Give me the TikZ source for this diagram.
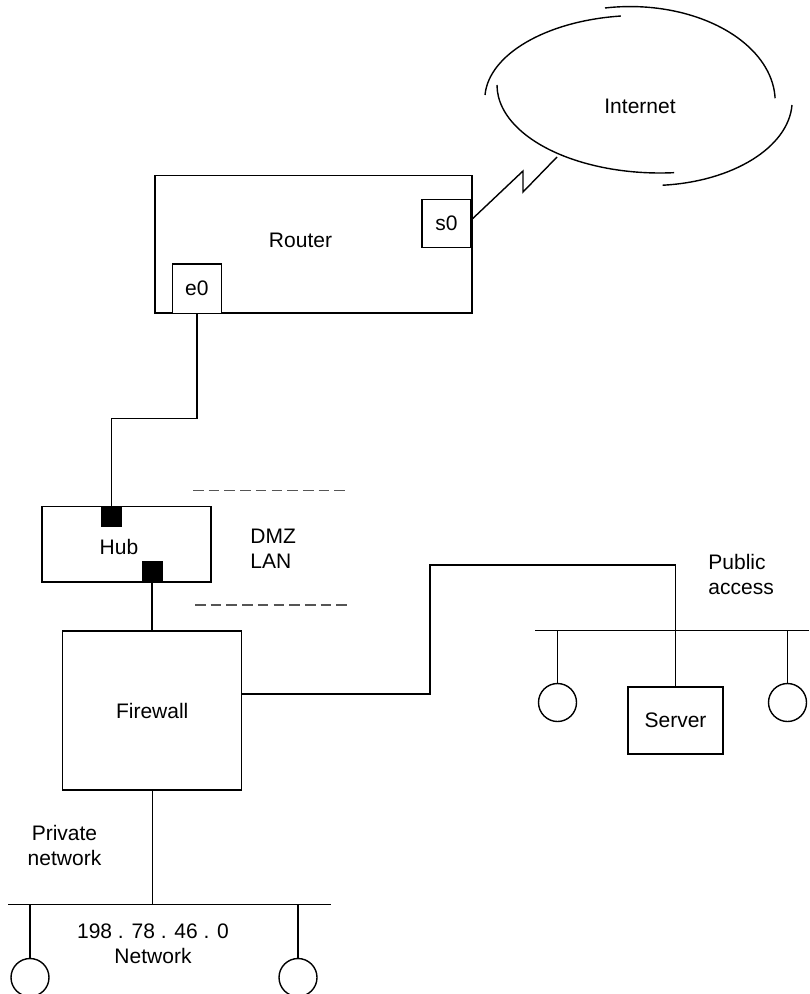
\documentclass[tikz,border=0pt]{standalone}
\usepackage{fontspec}
\setmainfont{Liberation Sans}
\usepackage{xcolor}
\usepackage{tikz}
\usetikzlibrary{calc}
\definecolor{NetGray}{HTML}{555555}

\begin{document}
\begin{tikzpicture}[
    x=0.5pt,y=-0.5pt,
    font=\fontsize{10.5}{12.5}\selectfont,
    box/.style={draw,line width=0.7pt,fill=white,inner sep=0pt,align=center},
    port/.style={fill=black,minimum size=10.5pt,inner sep=0pt},
    station/.style={circle,draw,line width=0.7pt,fill=white,minimum size=19pt,inner sep=0pt},
    link/.style={line width=0.7pt},
    zone/.style={line width=0.9pt,color=NetGray,dash pattern=on 5.3pt off 2.55pt},
    cloudarc/.style={line width=0.7pt},
    txt/.style={inner sep=0pt,align=center}
  ]
    \useasboundingbox (0,0) rectangle (809,994);
    \clip (0,0) rectangle (809,994);
    % internet cloud
    \draw[cloudarc] (485,95) arc[start angle=177,end angle=97,x radius=77.5pt,y radius=42pt];
    \draw[cloudarc] (605,8) arc[start angle=100,end angle=2,x radius=72.5pt,y radius=47.5pt];
    \draw[cloudarc] (792,105) arc[start angle=-3,end angle=-85,x radius=71pt,y radius=42.5pt];
    \draw[cloudarc] (497,85) arc[start angle=180,end angle=275,x radius=81.5pt,y radius=44pt];
    \node[txt] (inet) at (640,106) {Internet};
    \coordinate (netend) at (557,157);

    % router with its interfaces
    \node[box,minimum width=158.5pt,minimum height=68.7pt,
      label={[xshift=-6.5pt,yshift=2pt]center:Router}] (router) at (313.5,244.4) {};
    \node[box,minimum width=24.5pt,minimum height=24.2pt] (s0) at (446.5,223.5) {s0};
    \node[box,minimum width=24.5pt,minimum height=24.5pt] (e0) at (196.8,288.7) {e0};

    % DMZ
    \node[box,minimum width=84.5pt,minimum height=37.8pt,
      label={[xshift=-3.75pt,yshift=-1.3pt]center:Hub}] (hub) at (126.5,544) {};
    \node[port] (hubin) at (111.5,516.5) {};
    \node[port] (hubout) at (152,571.5) {};
    \draw[zone] (193,490.5) -- (347,490.5);
    \draw[zone] (195,605) -- (349,605);
    \node[txt,anchor=west,align=left] (dmz) at (250,548.5) {DMZ\\LAN};

    \node[box,minimum width=89.5pt,minimum height=79.5pt] (firewall) at (152.2,710.5) {Firewall};

    % public access segment
    \node[box,minimum width=47.5pt,minimum height=33.5pt] (server) at (675.5,720.5) {Server};
    \node[station] (pub1) at (557.5,702.5) {};
    \node[station] (pub2) at (787.5,702.5) {};
    \coordinate (pubL) at (535,630.7);
    \coordinate (pubR) at (809,630.7);
    \node[txt,anchor=west,align=left] (publbl) at (708,574.5) {Public\\access};

    % private segment
    \node[station] (priv1) at (30,977.5) {};
    \node[station] (priv2) at (298,977.5) {};
    \coordinate (privL) at (8,904.3);
    \coordinate (privR) at (331,904.3);
    \node[txt] (privlbl) at (64.5,845) {Private\\network};
    \node[txt] (netlbl) at (153,943.7) {198 . 78 . 46 . 0\\Network};

    % links
    \draw[link] ([yshift=2pt]s0.east) -- (523,171) -- (523,192) -- (netend);
    \draw[link] (e0.south) -- ++(0,104.6) -| (hubin.north);
    \draw[link] (hubout.south) -- (hubout.south |- firewall.north);
    \draw[link] (firewall.east |- 0,694) -- (430,694) |- (server.north |- 0,565) -- (server.north);
    \draw[link] (pubL) -- (pubR);
    \draw[link] (pub1.north |- pubL) -- (pub1.north);
    \draw[link] (pub2.north |- pubL) -- (pub2.north);
    \draw[link] (firewall.south) -- (firewall.south |- privL);
    \draw[link] (privL) -- (privR);
    \draw[link] (priv1.north |- privL) -- (priv1.north);
    \draw[link] (priv2.north |- privL) -- (priv2.north);
  \end{tikzpicture}
\end{document}
